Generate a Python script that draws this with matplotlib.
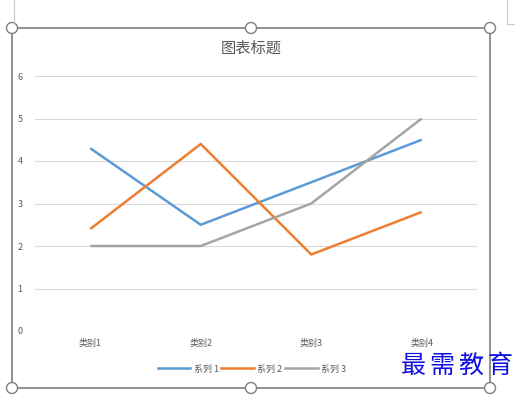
import matplotlib
matplotlib.use('Agg')
import matplotlib.pyplot as plt
from matplotlib.patches import Rectangle, Circle
from matplotlib.lines import Line2D

plt.rcParams['font.family'] = ['Noto Sans CJK SC', 'DejaVu Sans']

categories = ['类别1', '类别2', '类别3', '类别4']
series_names = ['系列 1', '系列 2', '系列 3']
series1 = [4.3, 2.5, 3.5, 4.5]
series2 = [2.4, 4.4, 1.8, 2.8]
series3 = [2, 2, 3, 5]
colors = ['#5B9BD5', '#ED7D31', '#A5A5A5']
yticks = [0, 1, 2, 3, 4, 5, 6]

W, H = 522, 398
fig = plt.figure(figsize=(W / 100, H / 100), dpi=100)

def fx(px):
    return px / W

def fy(py):
    return 1 - py / H

# plot area
ax = fig.add_axes([fx(35), fy(331), fx(477) - fx(35), fy(76) - fy(331)])
for vals, c, name in zip([series1, series2, series3], colors, series_names):
    ax.plot(range(len(categories)), vals, color=c, lw=1.8, label=name,
            solid_capstyle='butt')
ax.set_xlim(-0.5, len(categories) - 0.5)
ax.set_ylim(0, 6)
ax.set_yticks(yticks)
ax.set_xticks(range(len(categories)))
ax.set_xticklabels(categories)
ax.grid(axis='y', color='#D9D9D9', lw=0.8)
ax.set_axisbelow(True)
for s in ax.spines.values():
    s.set_visible(False)
ax.tick_params(length=0, labelsize=6.5, colors='#595959', pad=6)
ax.tick_params(axis='y', pad=9)

fig.text(fx(251), fy(48), '图表标题', ha='center', va='center',
         fontsize=11, color='#595959')

handles = [Line2D([], [], color=c, lw=1.8) for c in colors]
fig.legend(handles, series_names, loc='center', bbox_to_anchor=(fx(252), fy(369)),
           ncol=3, frameon=False, fontsize=6.5, labelcolor='#595959',
           handlelength=3.6, columnspacing=0.3, handletextpad=0.4)

# chart frame and selection handles
fig.patches.append(Rectangle((fx(12), fy(388)), fx(490) - fx(12), fy(28) - fy(388),
                             transform=fig.transFigure, fill=False,
                             edgecolor='#7F7F7F', lw=1.2))
for hx in [12, 251, 490]:
    for hy in [28, 388]:
        fig.patches.append(Circle((hx, H - hy), 5.5, transform=None,
                                  facecolor='white', edgecolor='#7F7F7F', lw=1))
fig.lines.append(Line2D([fx(14), fx(14)], [fy(0), fy(24)], transform=fig.transFigure,
                        color='#C8C8C8', lw=0.8))
fig.lines.append(Line2D([fx(507), fx(507), fx(514)], [fy(0), fy(24), fy(24)],
                        transform=fig.transFigure, color='#C8C8C8', lw=0.8))

# watermark
for i, ch in enumerate('最需教育'):
    fig.text(fx(413 + i * 29), fy(366), ch, ha='center', va='center',
             fontsize=18, color='#1010E0')

fig.savefig('out.png', dpi=100)
